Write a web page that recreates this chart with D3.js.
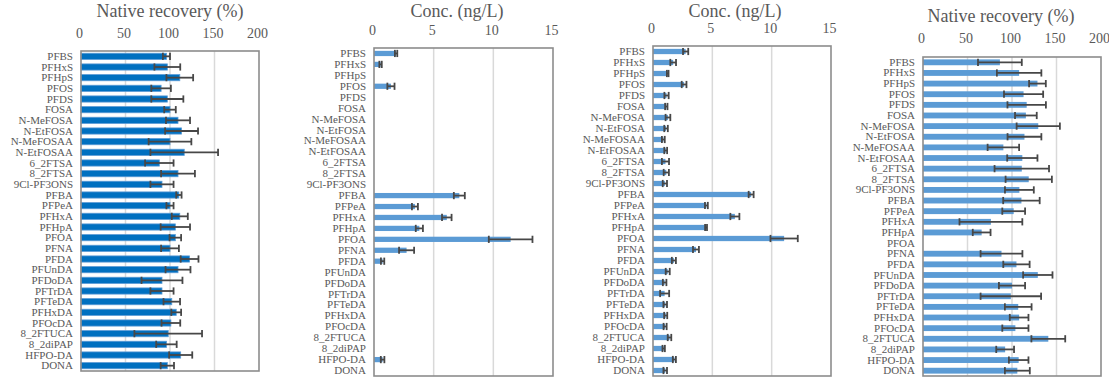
<!DOCTYPE html>
<html>
<head>
<meta charset="utf-8">
<script src="https://cdn.jsdelivr.net/npm/d3@7"></script>
<style>
  body { margin: 0; background: #fff; }
  svg { display: block; font-family: "Liberation Serif", "Times New Roman", serif; }
</style>
</head>
<body>
<div id="chart"></div>
<script>
// compounds, top to bottom in every panel
const compounds = ['PFBS', 'PFHxS', 'PFHpS', 'PFOS', 'PFDS', 'FOSA', 'N-MeFOSA', 'N-EtFOSA',
  'N-MeFOSAA', 'N-EtFOSAA', '6_2FTSA', '8_2FTSA', '9Cl-PF3ONS', 'PFBA', 'PFPeA', 'PFHxA',
  'PFHpA', 'PFOA', 'PFNA', 'PFDA', 'PFUnDA', 'PFDoDA', 'PFTrDA', 'PFTeDA', 'PFHxDA',
  'PFOcDA', '8_2FTUCA', '8_2diPAP', 'HFPO-DA', 'DONA'];

const recoveryTicks = [0, 50, 100, 150, 200];
const concTicks = [0, 5, 10, 15];

// panel A: native recovery (%)
const recoveryA = [96, 97, 111, 90, 97, 100, 109, 113, 100, 116, 88, 109, 91,
  110, 100, 111, 106, 106, 100, 122, 109, 91, 91, 102, 107, 101, 98, 96, 112, 97];
const recoveryAErr = [4, 14.5, 15, 11, 18, 6.5, 13.5, 18.5, 24, 38, 16, 19, 13,
  3, 4, 9, 16.5, 6.5, 10, 10, 14, 23, 13, 9.3, 5.5, 10.5, 38, 11.5, 13, 7.5];

// panel B: concentration (ng/L)
const concB = [1.85, 0.55, null, 1.42, null, null, null, null, null, null, null, null, null,
  7.15, 3.43, 6.1, 3.8, 11.45, 2.73, 0.72, null, null, null, null, null, null, null, null, 0.72, null];
const concBErr = [0.1, 0.1, null, 0.3, null, null, null, null, null, null, null, null, null,
  0.46, 0.25, 0.4, 0.3, 1.83, 0.63, 0.14, null, null, null, null, null, null, null, null, 0.15, null];

// panel C: concentration (ng/L)
const concC = [2.75, 1.7, 1.24, 2.62, 1.14, 1.12, 1.26, 1.1, 0.87, 1.07, 1.05, 1.12, 1.0,
  8.27, 4.5, 6.9, 4.47, 11.05, 3.62, 1.76, 1.24, 0.98, 0.98, 1.03, 1.07, 1.02, 1.39, 0.9, 1.8, 1.03];
const concCErr = [0.22, 0.24, 0.07, 0.2, 0.18, 0.1, 0.2, 0.15, 0.12, 0.12, 0.3, 0.22, 0.18,
  0.21, 0.12, 0.38, 0.08, 1.15, 0.25, 0.17, 0.17, 0.15, 0.38, 0.15, 0.13, 0.13, 0.15, 0.1, 0.13, 0.15];

// panel D: native recovery (%)
const recoveryD = [86.4, 108, 128.6, 113, 116.5, 115.6, 129.5, 114, 90.3, 111.6, 111, 118.8, 108.3,
  110.6, 101.9, 76.3, 65.9, null, 88.2, 105, 129, 100, 98.7, 107, 108, 103.8, 140.8, 92.3, 107.5, 106];
const recoveryDErr = [24.6, 25, 9.4, 22, 21.6, 12.2, 24.3, 19, 17.7, 17, 30.6, 26, 16.2,
  20.5, 12.8, 35.3, 10, null, 23.5, 14.8, 16.5, 14.7, 34, 15, 10.5, 14.7, 19, 10, 11, 14];

const width = 1109, height = 378;
const textColor = '#595959';
const serif = '"Liberation Serif", "Times New Roman", serif';

const svg = d3.select('#chart').append('svg')
  .attr('width', width)
  .attr('height', height);

const panels = [
  { title: 'Native recovery (%)', ticks: recoveryTicks, values: recoveryA, errors: recoveryAErr,
    left: 81, right: 259, top: 51, bottom: 371, titleX: 170, titleY: 17, tickY: 38,
    fill: '#0070C0', stroke: '#5B9BD5', pad: 0.42 },
  { title: 'Conc. (ng/L)', ticks: concTicks, values: concB, errors: concBErr,
    left: 374, right: 553, top: 48, bottom: 376, titleX: 457, titleY: 17, tickY: 35,
    fill: '#5B9BD5', stroke: 'none', pad: 0.52 },
  { title: 'Conc. (ng/L)', ticks: concTicks, values: concC, errors: concCErr,
    left: 653, right: 831, top: 46, bottom: 376, titleX: 735, titleY: 17, tickY: 33,
    fill: '#5B9BD5', stroke: 'none', pad: 0.52 },
  { title: 'Native recovery (%)', ticks: recoveryTicks, values: recoveryD, errors: recoveryDErr,
    left: 923, right: 1101, top: 57, bottom: 376, titleX: 1001, titleY: 22, tickY: 43,
    fill: '#5B9BD5', stroke: 'none', pad: 0.45 }
];

panels.forEach(function (p) {
  let g = svg.append('g');

  let x = d3.scaleLinear()
    .domain([p.ticks[0], p.ticks[p.ticks.length - 1]])
    .range([p.left, p.right]);

  let y = d3.scaleBand()
    .domain(compounds)
    .range([p.top, p.bottom])
    .paddingInner(p.pad)
    .paddingOuter(p.pad / 2);

  let rows = compounds.map(function (c, i) {
    return { name: c, v: p.values[i], e: p.errors[i] };
  });

  // gridlines
  g.selectAll('.grid')
    .data(p.ticks.slice(1, -1))
    .enter().append('line')
    .attr('x1', d => x(d)).attr('x2', d => x(d))
    .attr('y1', p.top).attr('y2', p.bottom)
    .attr('stroke', '#d9d9d9')
    .attr('stroke-width', 1.5);

  // bars
  let filled = rows.filter(d => d.v != null);
  g.selectAll('.bar')
    .data(filled)
    .enter().append('rect')
    .attr('x', x(0))
    .attr('y', d => y(d.name))
    .attr('width', d => x(d.v) - x(0))
    .attr('height', y.bandwidth())
    .attr('fill', p.fill)
    .attr('stroke', p.stroke)
    .attr('stroke-width', 0.8);

  // error bars
  let err = g.selectAll('.err')
    .data(filled.filter(d => d.e != null))
    .enter().append('g')
    .attr('stroke', '#474747')
    .attr('stroke-width', 1.8);

  let cap = 3.6;
  let mid = d => y(d.name) + y.bandwidth() / 2;
  err.append('line')
    .attr('x1', d => x(d.v - d.e)).attr('x2', d => x(d.v + d.e))
    .attr('y1', mid).attr('y2', mid);
  err.append('line')
    .attr('x1', d => x(d.v - d.e)).attr('x2', d => x(d.v - d.e))
    .attr('y1', d => mid(d) - cap).attr('y2', d => mid(d) + cap);
  err.append('line')
    .attr('x1', d => x(d.v + d.e)).attr('x2', d => x(d.v + d.e))
    .attr('y1', d => mid(d) - cap).attr('y2', d => mid(d) + cap);

  // frame
  g.append('rect')
    .attr('x', p.left).attr('y', p.top)
    .attr('width', p.right - p.left)
    .attr('height', p.bottom - p.top)
    .attr('fill', 'none')
    .attr('stroke', '#8c8c8c')
    .attr('stroke-width', 1.6);

  // category labels
  g.append('g')
    .attr('transform', `translate(${p.left - 8}, 0)`)
    .call(d3.axisLeft(y).tickSize(0).tickPadding(0))
    .attr('font-family', serif)
    .attr('font-size', 11)
    .call(a => a.select('.domain').remove())
    .selectAll('text')
    .attr('fill', textColor);

  // value ticks on top
  g.append('g')
    .attr('transform', `translate(-2, ${p.tickY})`)
    .call(d3.axisTop(x).tickValues(p.ticks).tickSize(0).tickPadding(0).tickFormat(d3.format('d')))
    .attr('font-family', serif)
    .attr('font-size', 14)
    .call(a => a.select('.domain').remove())
    .selectAll('text')
    .attr('fill', textColor);

  g.append('text')
    .attr('x', p.titleX)
    .attr('y', p.titleY)
    .attr('text-anchor', 'middle')
    .attr('fill', textColor)
    .attr('font-family', serif)
    .attr('font-size', 18)
    .text(p.title);
});
</script>
</body>
</html>
